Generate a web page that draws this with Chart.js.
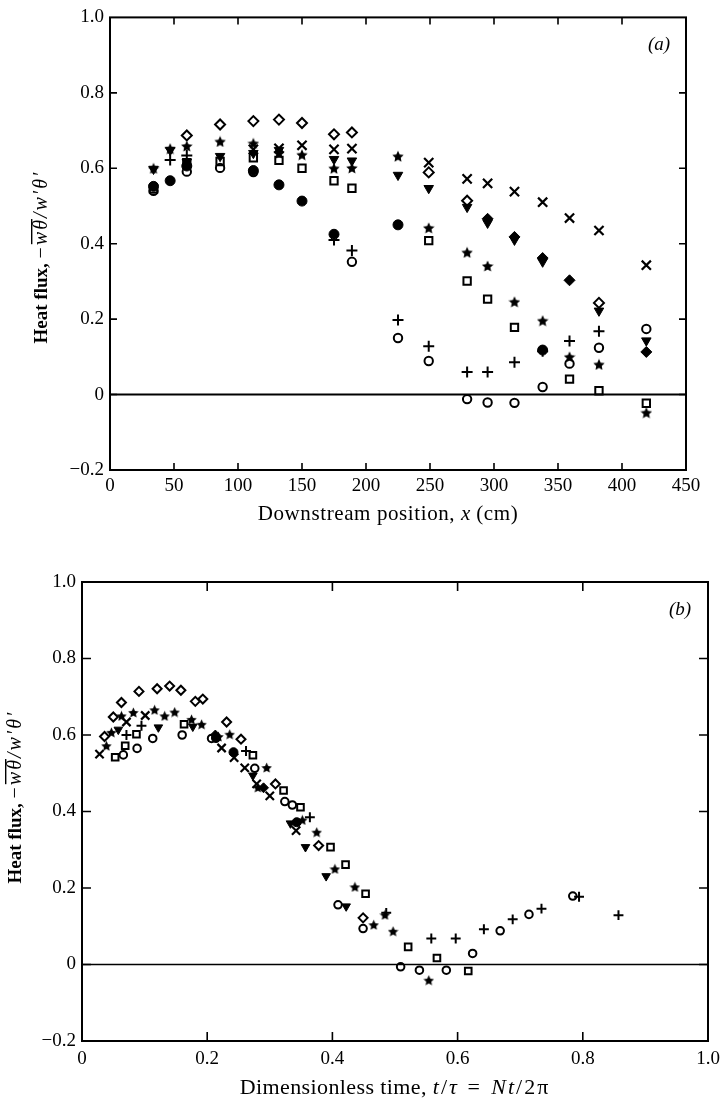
<!DOCTYPE html>
<html>
<head>
<meta charset="utf-8">
<script src="https://cdn.jsdelivr.net/npm/chart.js@4.4.0/dist/chart.umd.min.js"></script>
<style>
  html, body { margin: 0; padding: 0; background: #fff; }
  #wrap { position: relative; width: 728px; height: 1102px; overflow: hidden; }
  #wrap canvas { position: absolute; left: 0; }
</style>
</head>
<body>
<div id="wrap">
  <canvas id="chartA" width="728" height="540" style="top:0"></canvas>
  <canvas id="chartB" width="728" height="562" style="top:540px"></canvas>
</div>
<script>
const SERIF = '"Liberation Serif", "DejaVu Serif", serif';

// (a) heat flux against downstream position x (cm), one row per symbol
const stationsA = [34, 47, 60, 86, 112, 132, 150, 175, 189, 225, 249, 279, 295, 316, 338, 359, 382, 419];
const diamondA = [null, null, 0.687, 0.716, 0.725, 0.729, 0.720, 0.690, 0.695, null, 0.589, 0.514, null, null, null, null, 0.243, null];
const starA = [0.600, 0.652, 0.659, 0.671, 0.666, 0.640, 0.636, 0.600, 0.601, 0.632, 0.442, 0.377, 0.341, 0.246, 0.196, 0.100, 0.080, -0.048];
const crossA = [null, null, null, null, 0.650, 0.653, 0.661, 0.650, 0.652, null, 0.615, 0.572, 0.560, 0.538, 0.510, 0.468, 0.435, 0.343];
const plusA = [null, 0.622, 0.634, null, null, null, null, 0.410, 0.382, 0.198, 0.128, 0.060, 0.060, 0.086, 0.115, 0.142, 0.168, null];
const squareA = [0.545, null, 0.615, 0.618, 0.628, 0.621, 0.600, 0.567, 0.547, null, 0.408, 0.301, 0.253, 0.178, null, 0.041, 0.010, -0.023];
const circleA = [0.540, null, 0.591, 0.601, 0.590, null, null, null, 0.352, 0.150, 0.089, -0.012, -0.021, -0.022, 0.020, 0.082, 0.124, 0.174];
const triA = [0.598, 0.648, 0.617, 0.632, 0.640, 0.648, null, 0.624, 0.620, 0.582, 0.547, 0.497, 0.455, 0.410, 0.352, null, 0.222, 0.143];
const solidDiamondA = [null, null, null, null, null, null, null, null, null, null, null, null, 0.466, 0.418, 0.362, 0.303, null, 0.113];
const dotA = [0.552, 0.567, 0.606, null, 0.594, 0.556, 0.513, 0.425, null, 0.450, null, null, null, null, 0.118, null, null, null];

// (b) the same runs against dimensionless time t/tau = Nt/2pi
const tDiamondB = [0.036, 0.050, 0.063, 0.091, 0.120, 0.140, 0.158, 0.181, 0.193, 0.231, 0.254, 0.309, 0.378, 0.449];
const hDiamondB = [0.596, 0.647, 0.685, 0.714, 0.721, 0.728, 0.717, 0.688, 0.694, 0.634, 0.589, 0.472, 0.311, 0.122];
const tStarB = [0.039, 0.047, 0.063, 0.082, 0.116, 0.132, 0.148, 0.175, 0.191, 0.218, 0.236, 0.281, 0.295, 0.352, 0.375, 0.404, 0.436, 0.466, 0.484, 0.497, 0.554];
const hStarB = [0.572, 0.607, 0.650, 0.659, 0.666, 0.650, 0.660, 0.641, 0.628, 0.596, 0.602, 0.463, 0.515, 0.378, 0.346, 0.250, 0.203, 0.104, 0.130, 0.087, -0.041];
const tCrossB = [0.028, 0.071, 0.101, 0.223, 0.243, 0.260, 0.279, 0.300, 0.342];
const hCrossB = [0.550, 0.634, 0.651, 0.566, 0.541, 0.514, 0.472, 0.441, 0.350];
const tPlusB = [0.071, 0.095, 0.262, 0.364, 0.486, 0.558, 0.597, 0.642, 0.688, 0.734, 0.794, 0.857];
const hPlusB = [0.600, 0.624, 0.558, 0.385, 0.135, 0.068, 0.068, 0.092, 0.118, 0.146, 0.177, 0.129];
const tSquareB = [0.053, 0.069, 0.087, 0.163, 0.273, 0.322, 0.349, 0.397, 0.421, 0.453, 0.521, 0.567, 0.617];
const hSquareB = [0.542, 0.572, 0.602, 0.628, 0.547, 0.455, 0.411, 0.307, 0.261, 0.185, 0.046, 0.017, -0.017];
const tCircleB = [0.066, 0.088, 0.113, 0.160, 0.207, 0.276, 0.324, 0.336, 0.409, 0.449, 0.509, 0.539, 0.582, 0.624, 0.668, 0.714, 0.784];
const hCircleB = [0.548, 0.565, 0.591, 0.600, 0.591, 0.513, 0.426, 0.417, 0.156, 0.094, -0.006, -0.015, -0.015, 0.029, 0.088, 0.131, 0.179];
const tTriB = [0.058, 0.122, 0.177, 0.273, 0.333, 0.357, 0.390, 0.422];
const hTriB = [0.614, 0.620, 0.622, 0.494, 0.369, 0.307, 0.231, 0.152];
const tSolidDiamondB = [0.213, 0.290];
const hSolidDiamondB = [0.600, 0.462];
const tDotB = [0.214, 0.242, 0.343];
const hDotB = [0.592, 0.555, 0.372];

// axes
const yTicks = [-0.2, 0, 0.2, 0.4, 0.6, 0.8, 1.0];
const yTickLabels = ['\u22120.2', '0', '0.2', '0.4', '0.6', '0.8', '1.0'];
const xTicksA = [0, 50, 100, 150, 200, 250, 300, 350, 400, 450];
const xTickLabelsA = ['0', '50', '100', '150', '200', '250', '300', '350', '400', '450'];
const xTicksB = [0, 0.2, 0.4, 0.6, 0.8, 1.0];
const xTickLabelsB = ['0', '0.2', '0.4', '0.6', '0.8', '1.0'];

function starMarker(size) {
  const c = document.createElement('canvas');
  c.width = c.height = size;
  const g = c.getContext('2d');
  const r = size / 2, ri = r * 0.48;
  g.beginPath();
  for (let i = 0; i < 10; i++) {
    const a = -Math.PI / 2 + i * Math.PI / 5;
    const rr = i % 2 ? ri : r;
    g.lineTo(r + rr * Math.cos(a), r + 0.6 + rr * Math.sin(a));
  }
  g.closePath();
  g.fillStyle = '#000';
  g.fill();
  return c;
}

function marks(k) {
  return {
    diamond: { pointStyle: 'rectRot', pointRadius: 5 * k, borderWidth: 2, backgroundColor: 'rgba(0,0,0,0)' },
    star: { pointStyle: starMarker(Math.round(12 * k)), pointRadius: 6 * k },
    cross: { pointStyle: 'crossRot', pointRadius: 6.5 * k, borderWidth: 2.2 },
    plus: { pointStyle: 'cross', pointRadius: 5.5 * k, borderWidth: 2 },
    square: { pointStyle: 'rect', pointRadius: 5.2 * k, borderWidth: 2, backgroundColor: 'rgba(0,0,0,0)' },
    circle: { pointStyle: 'circle', pointRadius: 4.2 * k, borderWidth: 2, backgroundColor: 'rgba(0,0,0,0)' },
    tri: { pointStyle: 'triangle', rotation: 180, pointRadius: 5.5 * k, borderWidth: 1, backgroundColor: '#000' },
    solidDiamond: { pointStyle: 'rectRot', pointRadius: 5.5 * k, borderWidth: 1, backgroundColor: '#000' },
    dot: { pointStyle: 'circle', pointRadius: 5 * k, borderWidth: 1, backgroundColor: '#000' }
  };
}

function series(name, xs, ys, style) {
  const pts = [];
  xs.forEach((x, i) => { if (ys[i] !== null) pts.push({ x: x, y: ys[i] }); });
  return Object.assign({ label: name, data: pts, showLine: false, borderColor: '#000', backgroundColor: '#000', pointHoverRadius: 0 }, style);
}

function axis(ticks, labels, fit, pad, size) {
  return {
    type: 'linear',
    min: ticks[0],
    max: ticks[ticks.length - 1],
    grid: { display: false, drawTicks: false },
    border: { display: false },
    afterBuildTicks: s => { s.ticks = ticks.map(v => ({ value: v })); },
    afterFit: fit,
    ticks: {
      color: '#000',
      padding: pad,
      autoSkip: false,
      maxRotation: 0,
      font: { family: SERIF, size: size },
      callback: (v, i) => labels[i]
    }
  };
}

// mixed-font text runs, centred on x; ls adds spacing after every character
function runWidth(ctx, r) {
  ctx.font = r.font;
  const ls = r.ls || 0;
  return ctx.measureText(r.text).width + ls * r.text.length;
}

function drawRuns(ctx, runs, x, y) {
  let w = 0;
  runs.forEach(r => { r.w = runWidth(ctx, r); w += r.w; });
  let cx = x - w / 2;
  runs.forEach(r => {
    ctx.font = r.font;
    if (r.ls) {
      let px = cx;
      for (const ch of r.text) {
        ctx.fillText(ch, px, y);
        px += ctx.measureText(ch).width + r.ls;
      }
    } else {
      ctx.fillText(r.text, cx, y);
    }
    if (r.over) ctx.fillRect(cx + 1, y - r.over, r.w - 2, 1.4);
    cx += r.w;
  });
}

function heatFluxTitle() {
  return [
    { text: 'Heat flux, ', font: 'bold 19px ' + SERIF },
    { text: '\u2212', font: '20px ' + SERIF, ls: 2 },
    { text: 'w\u03b8', font: 'italic 20px ' + SERIF, ls: 2, over: 16 },
    { text: '/w\u2032\u03b8\u2032', font: 'italic 20px ' + SERIF, ls: 2 }
  ];
}

// frame, inward ticks, zero line and the lettering around each panel
function decor(o) {
  return {
    id: 'decor',
    beforeDatasetsDraw(chart) {
      const ctx = chart.ctx, a = chart.chartArea, x = chart.scales.x, y = chart.scales.y;
      ctx.save();
      ctx.strokeStyle = '#000';
      ctx.lineWidth = o.zeroWidth;
      const y0 = y.getPixelForValue(0);
      ctx.beginPath();
      ctx.moveTo(a.left, y0);
      ctx.lineTo(a.right, y0);
      ctx.stroke();
      ctx.lineWidth = 1.6;
      ctx.beginPath();
      x.ticks.slice(1, -1).forEach(t => {
        const px = x.getPixelForValue(t.value);
        ctx.moveTo(px, a.bottom); ctx.lineTo(px, a.bottom - o.tick);
        ctx.moveTo(px, a.top); ctx.lineTo(px, a.top + o.tick);
      });
      y.ticks.slice(1, -1).forEach(t => {
        const py = y.getPixelForValue(t.value);
        ctx.moveTo(a.left, py); ctx.lineTo(a.left + o.tick, py);
        ctx.moveTo(a.right, py); ctx.lineTo(a.right - o.tick, py);
      });
      ctx.stroke();
      ctx.lineWidth = o.frameWidth;
      ctx.strokeRect(a.left, a.top, a.right - a.left, a.bottom - a.top);
      ctx.restore();
    },
    afterDraw(chart) {
      const ctx = chart.ctx;
      ctx.save();
      ctx.fillStyle = '#000';
      ctx.textBaseline = 'alphabetic';
      drawRuns(ctx, [{ text: o.tag, font: 'italic 19px ' + SERIF }], o.tagX, o.tagY);
      drawRuns(ctx, o.xTitle, o.xTitleX, o.xTitleY);
      ctx.translate(o.yTitleX, o.yTitleY);
      ctx.rotate(-Math.PI / 2);
      drawRuns(ctx, heatFluxTitle(), 0, 0);
      ctx.restore();
    }
  };
}

function build(id, sets, xTicks, xLabels, fitY, fitX, padding, o) {
  return new Chart(document.getElementById(id), {
    type: 'scatter',
    data: { datasets: sets },
    options: {
      responsive: false,
      animation: false,
      events: [],
      layout: { padding: padding },
      plugins: { legend: { display: false }, tooltip: { enabled: false } },
      scales: {
        x: axis(xTicks, xLabels, s => { s.height = fitX; }, o.xPad, 19),
        y: axis(yTicks, yTickLabels, s => { s.width = fitY; }, o.yPad, 19)
      }
    },
    plugins: [decor(o)]
  });
}

const mA = marks(1);
build('chartA', [
  series('diamond', stationsA, diamondA, mA.diamond),
  series('cross', stationsA, crossA, mA.cross),
  series('plus', stationsA, plusA, mA.plus),
  series('square', stationsA, squareA, mA.square),
  series('circle', stationsA, circleA, mA.circle),
  series('dot', stationsA, dotA, mA.dot),
  series('triangle', stationsA, triA, mA.tri),
  series('solid diamond', stationsA, solidDiamondA, mA.solidDiamond),
  series('star', stationsA, starA, mA.star)
], xTicksA, xTickLabelsA, 110, 70, { top: 14, right: 42, left: 0, bottom: 0 }, {
  tag: '(a)', tagX: 659, tagY: 50, xPad: 5, yPad: 6,
  zeroWidth: 2, frameWidth: 2, tick: 7,
  xTitle: [
    { text: 'Downstream position, ', font: '21px ' + SERIF, ls: 0.6 },
    { text: 'x', font: 'italic 21px ' + SERIF },
    { text: ' (cm)', font: '21px ' + SERIF, ls: 0.6 }
  ],
  xTitleX: 388, xTitleY: 520,
  yTitleX: 47, yTitleY: 257
});

const mB = marks(0.9);
build('chartB', [
  series('diamond', tDiamondB, hDiamondB, mB.diamond),
  series('cross', tCrossB, hCrossB, mB.cross),
  series('plus', tPlusB, hPlusB, mB.plus),
  series('square', tSquareB, hSquareB, mB.square),
  series('circle', tCircleB, hCircleB, mB.circle),
  series('dot', tDotB, hDotB, mB.dot),
  series('triangle', tTriB, hTriB, mB.tri),
  series('solid diamond', tSolidDiamondB, hSolidDiamondB, mB.solidDiamond),
  series('star', tStarB, hStarB, mB.star)
], xTicksB, xTickLabelsB, 82, 61, { top: 42, right: 20, left: 0, bottom: 0 }, {
  tag: '(b)', tagX: 680, tagY: 75, xPad: 7, yPad: 6,
  zeroWidth: 1.5, frameWidth: 2, tick: 9,
  xTitle: [
    { text: 'Dimensionless time, ', font: '22px ' + SERIF, ls: 0.4 },
    { text: 't', font: 'italic 22px ' + SERIF, ls: 2 },
    { text: '/', font: '22px ' + SERIF, ls: 2 },
    { text: '\u03c4', font: 'italic 22px ' + SERIF, ls: 2 },
    { text: ' = ', font: '22px ' + SERIF, ls: 3 },
    { text: 'Nt', font: 'italic 22px ' + SERIF, ls: 2 },
    { text: '/2\u03c0', font: '22px ' + SERIF, ls: 2 }
  ],
  xTitleX: 395, xTitleY: 554,
  yTitleX: 21, yTitleY: 257
});
</script>
</body>
</html>
